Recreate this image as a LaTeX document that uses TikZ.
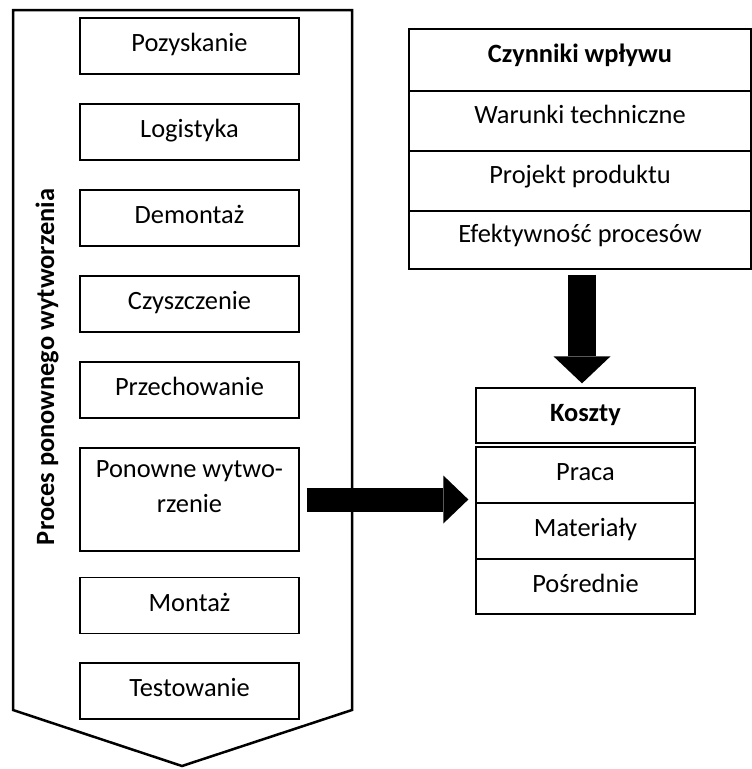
\documentclass[tikz,border=0pt]{standalone}
\usepackage{fontspec}
\setmainfont{Carlito}
\usetikzlibrary{arrows.meta}
\begin{document}
\begin{tikzpicture}[x=1pt,y=-1pt,
  every node/.style={font=\fontsize{26.4pt}{35pt}\selectfont, inner sep=0pt},
  stepbox/.style={draw, line width=1.3pt, minimum width=219pt, minimum height=56pt,
                  text height=16pt, text depth=5pt},
  cell/.style={draw, line width=1.3pt, minimum width=342pt,
               text height=15pt, text depth=11pt},
  plain/.style={anchor=base},
  downarrow/.style={line width=28pt,
                    -{Triangle[length=27pt,width=57pt,line width=0pt]}},
  rightarrow/.style={line width=24pt,
                     -{Triangle[length=25pt,width=48pt,line width=0pt]}}
]
\useasboundingbox (0,0) rectangle (752,769);

% process chevron
\draw[line width=2.5pt, line join=miter]
  (13,10) -- (352,10) -- (352,710) -- (182,766) -- (13,710) -- cycle;
\node[font=\fontsize{26.4pt}{35pt}\selectfont\bfseries, rotate=90, anchor=base]
  (proces) at (54,367) {Proces ponownego wytworzenia};

% process steps
\node[stepbox] (pozyskanie)   at (189.5,46)  {Pozyskanie};
\node[stepbox] (logistyka)    at (189.5,132) {Logistyka};
\node[stepbox] (demontaz)     at (189.5,218) {Demontaż};
\node[stepbox] (czyszczenie)  at (189.5,304) {Czyszczenie};
\node[stepbox] (przechowanie) at (189.5,390) {Przechowanie};
\node[stepbox, minimum height=103pt] (ponowne) at (189.5,499.5) {};
\node[plain] (ponowneA) at (189.5,477) {Ponowne wytwo-};
\node[plain] (ponowneB) at (189.5,512) {rzenie};
\node[stepbox] (montaz)       at (189.5,605.5) {Montaż};
\node[stepbox] (testowanie)   at (189.5,691)   {Testowanie};

% influencing factors table
\node[cell, minimum height=62pt] (factors1) at (580,60)  {\bfseries Czynniki wpływu};
\node[cell, minimum height=60pt] (factors2) at (580,121) {Warunki techniczne};
\node[cell, minimum height=60pt] (factors3) at (580,181) {Projekt produktu};
\node[cell, minimum height=58pt] (factors4) at (580,240) {Efektywność procesów};

% costs
\node[stepbox, minimum height=55pt] (koszty) at (585.5,415.5) {\bfseries Koszty};
\node[stepbox] (praca)     at (585.5,475)   {Praca};
\node[stepbox] (materialy) at (585.5,531)   {Materiały};
\node[stepbox, minimum height=55pt] (posrednie) at (585.5,586.5) {Pośrednie};

% connectors
\draw[downarrow] ([xshift=2pt,yshift=-5pt]factors4.south)
  -- ([xshift=-3.5pt,yshift=4pt]koszty.north);
\draw[rightarrow] ([xshift=7pt]ponowne.east)
  -- ([xshift=-7pt]ponowne.east -| praca.west);
\end{tikzpicture}
\end{document}
